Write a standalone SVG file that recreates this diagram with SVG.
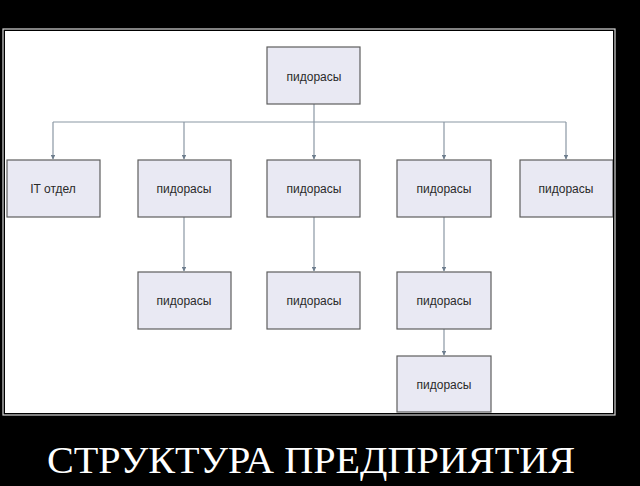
<svg xmlns="http://www.w3.org/2000/svg" width="640" height="486" viewBox="0 0 640 486">
<defs>
<style>
.node rect{fill:#e9e9f3;stroke:#5e5e5e;stroke-width:1.2}
.node text{font-family:"Liberation Sans",Arial,sans-serif;font-size:12px;fill:#2a2a2a;text-anchor:middle}
.conn{fill:none;stroke:#8a97a3;stroke-width:1.2}
</style>
<marker id="ah" viewBox="0 0 8 8" refX="7" refY="4" markerWidth="4" markerHeight="4" orient="auto">
<path d="M0,0 L8,4 L0,8 z" fill="#6e7e8e"/>
</marker>
<clipPath id="pic"><rect x="5" y="31" width="608" height="382"/></clipPath>
</defs>
<rect width="640" height="486" fill="#000"/>
<rect x="3" y="29" width="612" height="386" fill="#000" stroke="#d8d8d8" stroke-width="1.2"/>
<rect x="5" y="31" width="608" height="382" fill="#fff"/>
<g clip-path="url(#pic)">
<g id="connectors">
<path class="conn" d="M314,104 V122"/>
<path class="conn" d="M53,122 H566"/>
<path class="conn" d="M53,122 V159" marker-end="url(#ah)"/>
<path class="conn" d="M184,122 V159" marker-end="url(#ah)"/>
<path class="conn" d="M314,122 V159" marker-end="url(#ah)"/>
<path class="conn" d="M444,122 V159" marker-end="url(#ah)"/>
<path class="conn" d="M566,122 V159" marker-end="url(#ah)"/>
<path class="conn" d="M184,217 V271" marker-end="url(#ah)"/>
<path class="conn" d="M314,217 V271" marker-end="url(#ah)"/>
<path class="conn" d="M444,217 V271" marker-end="url(#ah)"/>
<path class="conn" d="M444,329 V355" marker-end="url(#ah)"/>
</g>
<g id="n-top" class="node"><rect x="267" y="47" width="93" height="57"/><text x="314" y="81">пидорасы</text></g>
<g id="n-it" class="node"><rect x="7" y="160" width="93" height="57"/><text x="53" y="193">IT отдел</text></g>
<g id="n-a1" class="node"><rect x="138" y="160" width="93" height="57"/><text x="184" y="193">пидорасы</text></g>
<g id="n-b1" class="node"><rect x="267" y="160" width="93" height="57"/><text x="314" y="193">пидорасы</text></g>
<g id="n-c1" class="node"><rect x="397" y="160" width="94" height="57"/><text x="444" y="193">пидорасы</text></g>
<g id="n-d1" class="node"><rect x="520" y="160" width="93" height="57"/><text x="566" y="193">пидорасы</text></g>
<g id="n-a2" class="node"><rect x="138" y="272" width="93" height="57"/><text x="184" y="305">пидорасы</text></g>
<g id="n-b2" class="node"><rect x="267" y="272" width="93" height="57"/><text x="314" y="305">пидорасы</text></g>
<g id="n-c2" class="node"><rect x="397" y="272" width="94" height="57"/><text x="444" y="305">пидорасы</text></g>
<g id="n-c3" class="node"><rect x="397" y="356" width="94" height="56"/><text x="444" y="389">пидорасы</text></g>
</g>
<text x="311" y="473" font-family="'Liberation Serif','Times New Roman',serif" font-size="38" fill="#fff" text-anchor="middle" textLength="528" lengthAdjust="spacingAndGlyphs">СТРУКТУРА ПРЕДПРИЯТИЯ</text>
</svg>
